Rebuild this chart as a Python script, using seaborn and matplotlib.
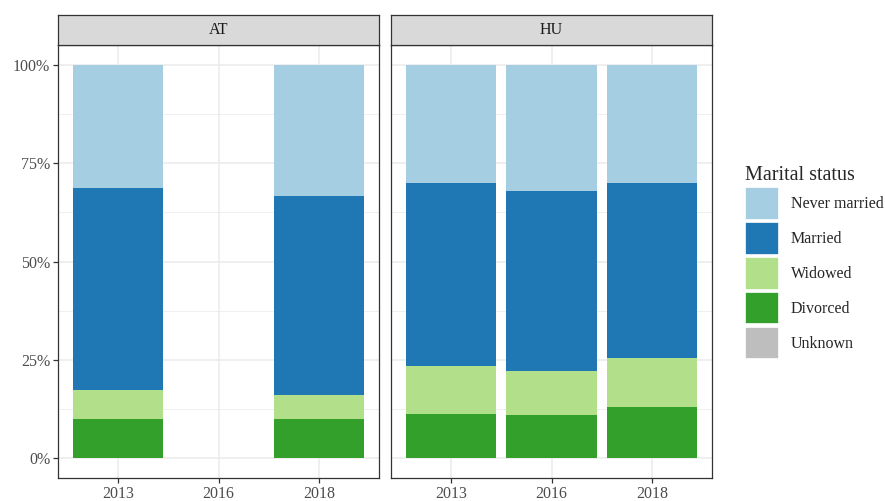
import numpy as np
import pandas as pd
import matplotlib
matplotlib.use('Agg')
import matplotlib.pyplot as plt
import seaborn as sns
from matplotlib.patches import Patch
from matplotlib.ticker import FixedLocator, PercentFormatter

sns.set_style('white')
plt.rcParams['font.family'] = ['Liberation Serif', 'DejaVu Serif']

# ---------------------------------------------------------------
# DATA (shares in %)
# ---------------------------------------------------------------
years = ['2013', '2016', '2018']
country = ['AT', 'AT', 'AT', 'HU', 'HU', 'HU']
year = ['2013', '2016', '2018', '2013', '2016', '2018']
unknown = [0.0, np.nan, 0.0, 0.0, 0.0, 0.0]
divorced = [10.1, np.nan, 10.0, 11.2, 11.1, 13.1]
widowed = [7.2, np.nan, 6.2, 12.3, 11.0, 12.3]
married = [51.3, np.nan, 50.4, 46.5, 45.9, 44.5]
never_married = [31.4, np.nan, 33.4, 30.0, 32.0, 30.1]

statuses = ['Never married', 'Married', 'Widowed', 'Divorced', 'Unknown']
colors = ['#A6CEE3', '#1F78B4', '#B2DF8A', '#33A02C', '#BEBEBE']

df = pd.DataFrame({'country': country, 'year': year,
                   'Unknown': unknown, 'Divorced': divorced, 'Widowed': widowed,
                   'Married': married, 'Never married': never_married})
# cumulative tops, stacked from the bottom (Unknown) to the top (Never married)
stack = ['Unknown', 'Divorced', 'Widowed', 'Married', 'Never married']
cum = df[stack].cumsum(axis=1) / 100
for s in stack:
    df['top_' + s] = cum[s]

# ---------------------------------------------------------------
# FIGURE
# ---------------------------------------------------------------
fig = plt.figure(figsize=(8.85, 5.01), dpi=100)
W, H = 885, 501
panels = {'AT': (58, 379), 'HU': (391, 712)}
p_top, p_bot = 45, 478
s_top = 15

tick_col = '#4D4D4D'
grid_col = '#EBEBEB'
fs = 11.5

for i, (cn, (x0, x1)) in enumerate(panels.items()):
    ax = fig.add_axes([x0 / W, 1 - p_bot / H, (x1 - x0) / W, (p_bot - p_top) / H])
    sub = df[df['country'] == cn]
    # draw the tallest cumulative first so lower layers overlay it
    for s in ['Never married', 'Married', 'Widowed', 'Divorced', 'Unknown']:
        c = colors[statuses.index(s)]
        sns.barplot(data=sub, x='year', y='top_' + s, order=years, color=c,
                    saturation=1, width=0.9, errorbar=None, linewidth=0, ax=ax,
                    zorder=3)
    ax.set_xlim(-0.6, 2.6)
    ax.set_ylim(-0.05, 1.05)
    ax.yaxis.set_major_locator(FixedLocator([0, 0.25, 0.5, 0.75, 1.0]))
    ax.yaxis.set_minor_locator(FixedLocator([0.125, 0.375, 0.625, 0.875]))
    ax.yaxis.set_major_formatter(PercentFormatter(1.0, decimals=0))
    ax.grid(True, which='major', color=grid_col, linewidth=1.1, zorder=0)
    ax.grid(True, which='minor', axis='y', color=grid_col, linewidth=0.55, zorder=0)
    ax.set_axisbelow(True)
    ax.set_xlabel('')
    ax.set_ylabel('')
    for sp in ax.spines.values():
        sp.set_color('#333333')
        sp.set_linewidth(0.9)
        sp.set_visible(True)
    ax.tick_params(axis='both', which='major', length=3.5, width=0.9, color='#333333',
                   labelsize=fs, labelcolor=tick_col, pad=2)
    ax.tick_params(axis='y', which='minor', length=0)
    ax.tick_params(axis='x', bottom=True)
    ax.tick_params(axis='y', left=True)
    if i > 0:
        ax.tick_params(axis='y', which='major', length=0, labelleft=False)

    # facet strip
    sax = fig.add_axes([x0 / W, 1 - p_top / H, (x1 - x0) / W, (p_top - s_top) / H])
    sax.set_facecolor('#D9D9D9')
    sax.set_xticks([])
    sax.set_yticks([])
    for sp in sax.spines.values():
        sp.set_color('#333333')
        sp.set_linewidth(0.9)
    sax.text(0.5, 0.5, cn, ha='center', va='center', fontsize=fs, color='#1A1A1A',
             transform=sax.transAxes)

handles = [Patch(facecolor=c, edgecolor='white', linewidth=1.2, label=s)
           for s, c in zip(statuses, colors)]
leg = fig.legend(handles=handles, title='Marital status', loc='upper left',
                 bbox_to_anchor=(745 / W, 1 - 166 / H), frameon=False,
                 fontsize=fs, title_fontsize=14.5, handlelength=2.1,
                 handleheight=2.75, labelspacing=0.15, handletextpad=0.75,
                 borderaxespad=0, borderpad=0)
leg._legend_box.align = 'left'

fig.savefig('out.png', dpi=100)
